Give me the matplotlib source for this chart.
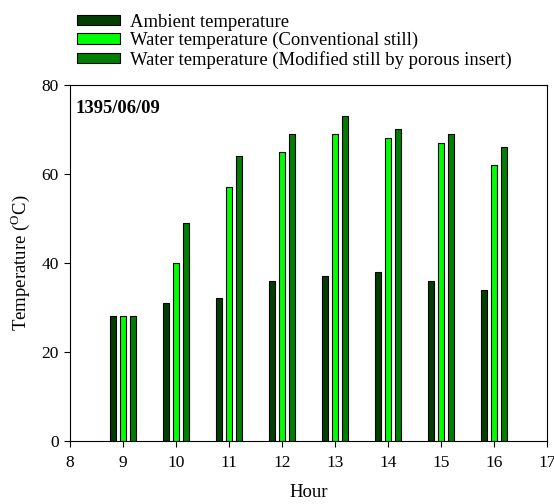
import matplotlib
matplotlib.use("Agg")
import matplotlib.pyplot as plt
import numpy as np

plt.rcParams["font.family"] = ["Liberation Serif", "DejaVu Serif"]
plt.rcParams["mathtext.fontset"] = "custom"
plt.rcParams["mathtext.rm"] = "Liberation Serif"

hours = [9, 10, 11, 12, 13, 14, 15, 16]
ambient = [28, 31, 32, 36, 37, 38, 36, 34]
water_conv = [28, 40, 57, 65, 69, 68, 67, 62]
water_mod = [28, 49, 64, 69, 73, 70, 69, 66]

labels = ["Ambient temperature",
          "Water temperature (Conventional still)",
          "Water temperature (Modified still by porous insert)"]
colors = ["#003f00", "#00ff00", "#008000"]

fig = plt.figure(figsize=(5.54, 5.04), dpi=100)
ax = fig.add_axes([0.1264, 0.1256, 0.861, 0.7057])

x = np.array(hours, dtype=float)
w = 0.125
off = 0.19
for series, dx, c, lab in zip([ambient, water_conv, water_mod], [-off, 0, off], colors, labels):
    ax.bar(x + dx, series, width=w, color=c, edgecolor="black", linewidth=0.8, label=lab)

ax.set_xlim(8, 17)
ax.set_ylim(0, 80)
ax.set_xticks(range(8, 18))
ax.set_yticks(range(0, 81, 20))
ax.tick_params(direction="out", length=4, width=0.8, labelsize=12.5, top=False, right=False)
ax.tick_params(axis="x", pad=6)
ax.tick_params(axis="y", pad=4)
for s in ax.spines.values():
    s.set_linewidth(0.8)

ax.set_xlabel("Hour", fontsize=13.5, labelpad=10)
ax.set_ylabel(r"Temperature ($^{\rm O}$C)", fontsize=13.5, labelpad=7)

ax.text(0.012, 0.933, "1395/06/09", transform=ax.transAxes, fontsize=13.4,
        fontweight="bold", ha="left", va="center")

handles, labs = ax.get_legend_handles_labels()
fig.legend(handles, labs, loc="upper left", bbox_to_anchor=(0.139, 0.973),
           frameon=False, fontsize=13.4, handlelength=2.3, handleheight=0.5,
           handletextpad=0.55, labelspacing=0.08, borderpad=0, borderaxespad=0)

fig.savefig("out.png", dpi=100)
